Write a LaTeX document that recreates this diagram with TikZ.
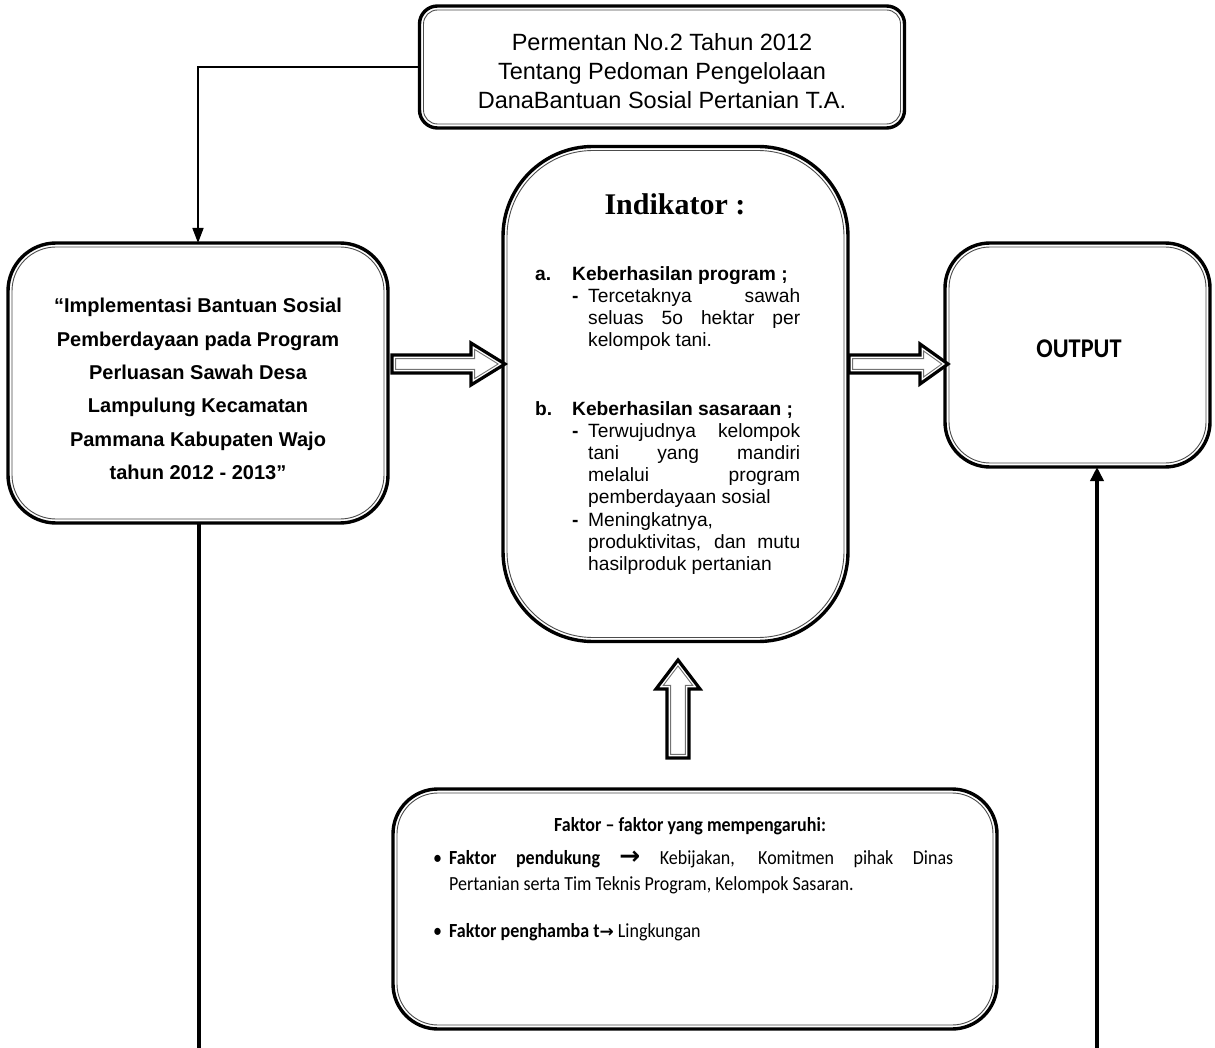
\documentclass[tikz,border=0pt]{standalone}
\usepackage{fontspec}
\setmainfont{Liberation Sans}
\newfontfamily\timesf{Liberation Serif}
\newfontfamily\twf[FakeStretch=0.9]{Carlito}
\newfontfamily\djv{DejaVu Sans}
\usetikzlibrary{calc,arrows.meta}
\tikzset{
  rbox/.style={draw, line width=3.4pt, fill=white, outer sep=0pt, inner sep=0pt},
  inln/.style={line width=0.9pt, draw=black!70},
  conn/.style={line width=1.6pt, -{Triangle[length=15pt,width=11pt]}},
  thk/.style={line width=4pt},
  ml/.style={anchor=base west, inner sep=0pt, font=\fontsize{19.2}{22}\selectfont},
  bt/.style={anchor=base west, inner sep=0pt, font=\twf\fontsize{20}{24}\selectfont},
}
\newcommand\InBorder[3]{\draw[inln, rounded corners=#2] ($(#1.north west)+(#3,#3)$) rectangle ($(#1.south east)+(-#3,-#3)$);}
\newcommand\BlkArr[7]{%
 \begin{scope}[shift={(#1,#2)},rotate=#3]
 \pgfmathsetmacro\bkr{sqrt((#7)*(#7)+(#5)*(#5))}
 \pgfmathsetmacro\bkt{3.6*\bkr/(#7)}
 \pgfmathsetmacro\bkh{(#7)*((#5)-3.6)/(#5)-3.6*\bkr/(#5)}
 \pgfmathsetmacro\bks{(#6)-3.6}
 \pgfmathsetmacro\bkx{(#4)+3.6}
 \pgfmathsetmacro\bktip{(#4)+(#5)-\bkt}
 \draw[line width=3.2pt, line join=miter, fill=white] (0,-#6) -- (#4,-#6) -- (#4,-#7) -- ({#4+#5},0) -- (#4,#7) -- (#4,#6) -- (0,#6) -- cycle;
 \draw[line width=0.9pt, draw=black!55] (3.6,-\bks) -- (\bkx,-\bks) -- (\bkx,-\bkh) -- (\bktip,0) -- (\bkx,\bkh) -- (\bkx,\bks) -- (3.6,\bks) -- cycle;
 \end{scope}}
\begin{document}
\begin{tikzpicture}[x=1pt,y=-1pt]
\useasboundingbox (0,0) rectangle (1215,1048);
\fill[white] (0,0) rectangle (1215,1048);

% top box
\node[rbox, minimum width=485pt, minimum height=122pt, rounded corners=18pt] (T) at (662,67) {};
\InBorder{T}{14pt}{4}
\node[font=\fontsize{23.5}{28.8}\selectfont, align=center] (Tt) at (662,71) {Permentan No.2 Tahun 2012\\Tentang Pedoman Pengelolaan\\DanaBantuan Sosial Pertanian T.A.};

% left box
\node[rbox, minimum width=380pt, minimum height=280pt, rounded corners=48pt] (L) at (198,383) {};
\InBorder{L}{44pt}{4}
\node[font=\bfseries\fontsize{20}{33.4}\selectfont, align=center] (Lt) at (198,389) {“Implementasi Bantuan Sosial\\Pemberdayaan pada Program\\Perluasan Sawah Desa\\Lampulung Kecamatan\\Pammana Kabupaten Wajo\\tahun 2012 - 2013”};

% middle box
\node[rbox, minimum width=345pt, minimum height=495pt, rounded corners=90pt] (M) at (675.5,394) {};
\InBorder{M}{86pt}{4}
\node[font=\timesf\bfseries\fontsize{30}{36}\selectfont] (Mt) at (675,204) {Indikator :};
\node[ml] (ma) at (535,281) {\textbf{a.}};
\node[ml] (mah) at (572,281) {\textbf{Keberhasilan program ;}};
\node[ml] (md1) at (572,303) {\textbf{-}};
\node[ml] (m1) at (588,303) {\makebox[212pt][s]{Tercetaknya sawah}};
\node[ml] (m2) at (588,325) {\makebox[212pt][s]{seluas 5o hektar per}};
\node[ml] (m3) at (588,347) {kelompok tani.};
\node[ml] (mb) at (535,415) {\textbf{b.}};
\node[ml] (mbh) at (572,415) {\textbf{Keberhasilan sasaraan ;}};
\node[ml] (md2) at (572,437) {\textbf{-}};
\node[ml] (m4) at (588,437) {\makebox[212pt][s]{Terwujudnya kelompok}};
\node[ml] (m5) at (588,459) {\makebox[212pt][s]{tani yang mandiri}};
\node[ml] (m6) at (588,481) {\makebox[212pt][s]{melalui program}};
\node[ml] (m7) at (588,503) {pemberdayaan sosial};
\node[ml] (md3) at (572,526) {\textbf{-}};
\node[ml] (m8) at (588,526) {Meningkatnya,};
\node[ml] (m9) at (588,548) {\makebox[212pt][s]{produktivitas, dan mutu}};
\node[ml] (m10) at (588,570) {hasilproduk pertanian};

% output box
\node[rbox, minimum width=265pt, minimum height=224pt, rounded corners=45pt] (O) at (1077.5,355) {};
\InBorder{O}{41pt}{4}
\node[font=\twf\bfseries\fontsize{27}{30}\selectfont] (Ot) at (1079,349) {OUTPUT};

% bottom box
\node[rbox, minimum width=604pt, minimum height=240pt, rounded corners=45pt] (B) at (695,909) {};
\InBorder{B}{41pt}{4}
\node[font=\twf\bfseries\fontsize{20}{24}\selectfont] (Bh) at (690,826) {Faktor – faktor yang mempengaruhi:};
\node[bt] (b1) at (433,864) {\textbullet};
\node[bt] (b1t) at (449,864) {\makebox[504pt][s]{\textbf{Faktor pendukung} {\djv\bfseries\fontsize{25}{25}\selectfont →} Kebijakan, Komitmen pihak Dinas}};
\node[bt] (b2t) at (449,890) {Pertanian serta Tim Teknis Program, Kelompok Sasaran.};
\node[bt] (b3) at (433,937) {\textbullet};
\node[bt] (b3t) at (449,937) {\textbf{Faktor penghamba t}{\djv\bfseries\fontsize{17}{17}\selectfont →} Lingkungan};

% connectors
\draw[conn] (T.west) -| (L.north);
\coordinate (lend) at (199,1048);
\draw[thk] (L.south -| lend) -- (lend);
\coordinate (rend) at (1097,1048);
\draw[thk, -{Triangle[length=14pt,width=13pt]}] (rend) -- (rend |- O.south);

% block arrows
\BlkArr{392}{364}{0}{79}{34}{9}{21}
\BlkArr{849}{364}{0}{71}{28}{9}{20}
\BlkArr{678}{758}{90}{69}{29}{11}{22}
\end{tikzpicture}
\end{document}
